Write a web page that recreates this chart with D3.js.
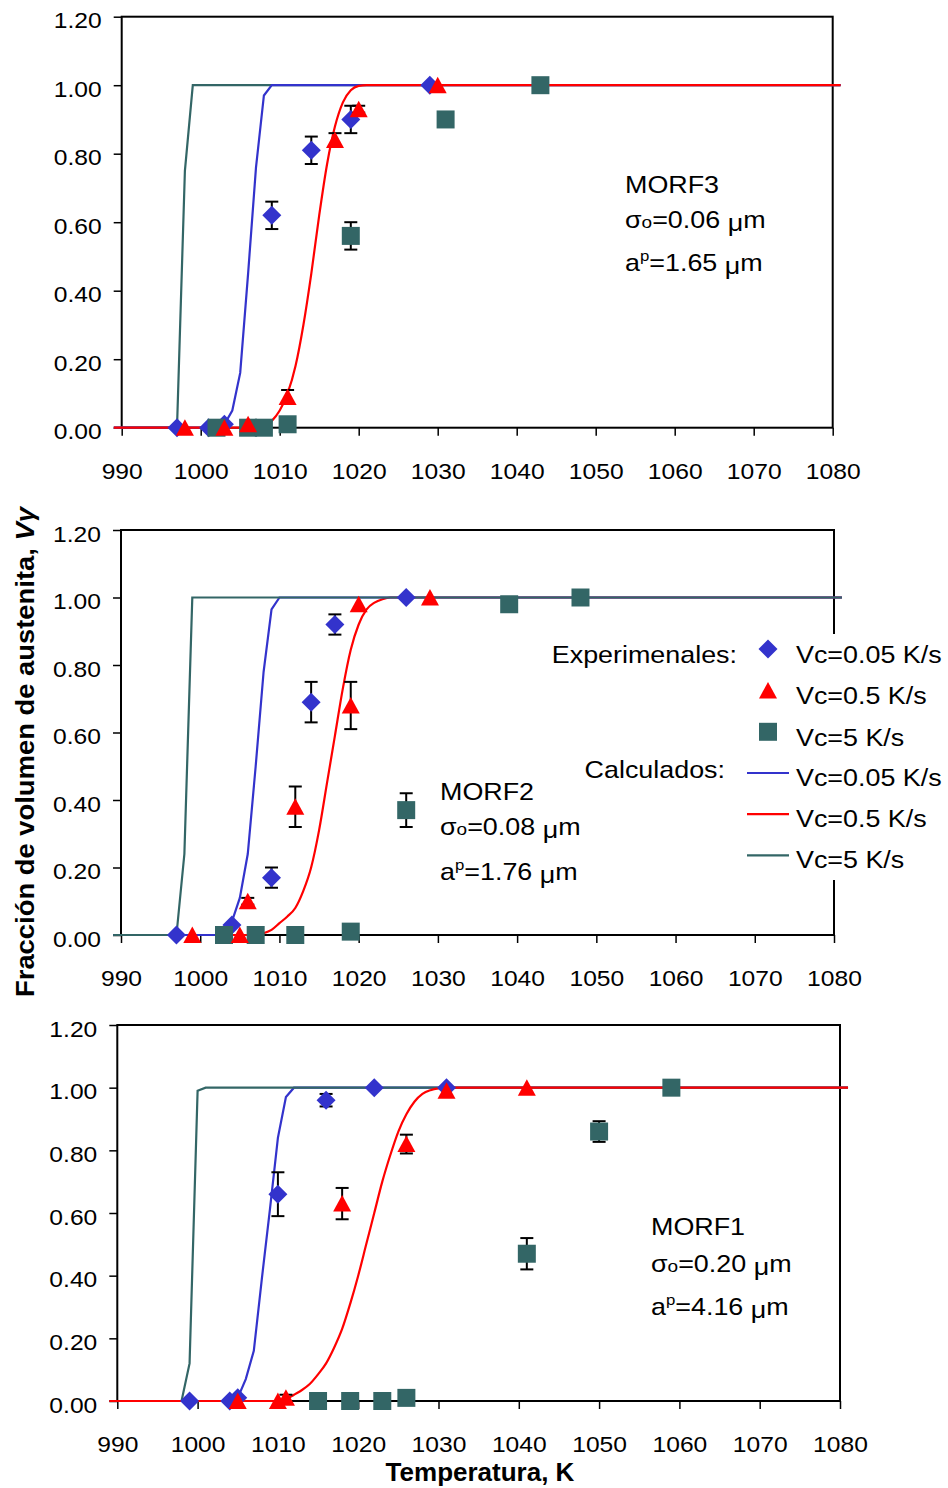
<!DOCTYPE html>
<html>
<head>
<meta charset="utf-8">
<script src="https://cdn.jsdelivr.net/npm/d3@7"></script>
<style>body{margin:0;background:#fff}</style>
</head>
<body>
<div id="chart"></div>
<script>
// ---- data: [temperatura K, fraccion V, error] ----
var xTicks = [990,1000,1010,1020,1030,1040,1050,1060,1070,1080];
var yTicks = [0,0.2,0.4,0.6,0.8,1.0,1.2];

// MORF3
var morf3Exp005 = [[997,0,0],[1001,0,0],[1003,0.01,0],[1009,0.62,0.04],[1014,0.81,0.04],[1019,0.90,0.04],[1029,1.0,0]];
var morf3Exp05  = [[998,0,0],[1003,0,0],[1006,0.01,0],[1011,0.09,0.02],[1017,0.84,0.02],[1020,0.93,0.01],[1030,1.0,0]];
var morf3Exp5   = [[1002,0,0],[1006,0,0],[1008,0,0],[1011,0.01,0],[1019,0.56,0.04],[1031,0.90,0],[1043,1.0,0]];
var morf3Calc005 = [[989,0],[1002,0],[1003,0.01],[1004,0.05],[1005,0.16],[1006,0.45],[1007,0.76],[1008,0.97],[1009,1],[1081,1]];
var morf3Calc05  = [[989,0],[1007,0],[1008,0.005],[1009,0.02],[1010,0.05],[1011,0.10],[1012,0.18],[1013,0.30],[1014,0.45],[1015,0.62],[1016,0.77],[1017,0.88],[1018,0.95],[1019,0.985],[1020,0.998],[1021,1],[1081,1]];
var morf3Calc5   = [[989,0],[997,0],[998,0.75],[999,1],[1081,1]];

// MORF2
var morf2Exp005 = [[997,0,0],[1004,0.03,0],[1009,0.17,0.03],[1014,0.69,0.06],[1017,0.92,0.03],[1026,1.0,0]];
var morf2Exp05  = [[999,0,0],[1005,0,0],[1006,0.10,0.01],[1012,0.38,0.06],[1019,0.68,0.07],[1020,0.98,0],[1029,1.0,0]];
var morf2Exp5   = [[1003,0,0],[1007,0,0],[1012,0,0],[1019,0.01,0],[1026,0.37,0.05],[1039,0.98,0],[1048,1.0,0]];
var morf2Calc005 = [[989,0],[1003,0],[1004,0.04],[1005,0.11],[1006,0.24],[1007,0.50],[1008,0.78],[1009,0.965],[1010,1],[1081,1]];
var morf2Calc05  = [[989,0],[1007,0],[1008,0.005],[1009,0.015],[1010,0.035],[1011,0.055],[1012,0.08],[1013,0.13],[1014,0.20],[1015,0.31],[1016,0.45],[1017,0.59],[1018,0.73],[1019,0.845],[1020,0.92],[1021,0.965],[1022,0.985],[1023,0.995],[1024,1],[1081,1]];
var morf2Calc5   = [[989,0],[997,0],[998,0.24],[999,1],[1081,1]];

// MORF1
var morf1Exp005 = [[999,0,0],[1004,0,0],[1005,0.01,0],[1010,0.66,0.07],[1016,0.96,0.02],[1022,1.0,0],[1031,1.0,0]];
var morf1Exp05  = [[1005,0,0],[1010,0,0],[1011,0.01,0.01],[1018,0.63,0.05],[1026,0.82,0.03],[1031,0.99,0],[1041,1.0,0]];
var morf1Exp5   = [[1015,0,0],[1019,0,0],[1023,0,0],[1026,0.01,0],[1041,0.47,0.05],[1050,0.86,0.033],[1059,1.0,0]];
var morf1Calc005 = [[989,0],[1004,0],[1005,0.01],[1006,0.07],[1007,0.16],[1008,0.39],[1009,0.61],[1010,0.84],[1011,0.97],[1012,1],[1081,1]];
var morf1Calc05  = [[989,0],[1010,0],[1011,0.005],[1012,0.02],[1013,0.035],[1014,0.055],[1015,0.085],[1016,0.12],[1017,0.17],[1018,0.23],[1019,0.31],[1020,0.40],[1021,0.50],[1022,0.60],[1023,0.70],[1024,0.785],[1025,0.86],[1026,0.915],[1027,0.955],[1028,0.98],[1029,0.992],[1030,0.998],[1031,1],[1081,1]];
var morf1Calc5   = [[989,0],[998,0],[999,0.12],[1000,0.99],[1001,1],[1081,1]];

var legendLabels = ["Vc=0.05 K/s","Vc=0.5 K/s","Vc=5 K/s"];

// ---- styles ----
var BLUE = "#3333CC", RED = "#FF0000", TEAL = "#336666";
var SX = 1.12; // text is a bit wide in the picture
var FONT = "'Liberation Sans', Arial, Helvetica, sans-serif";

var svg = d3.select("#chart").append("svg")
  .attr("width", 948).attr("height", 1488)
  .style("font-family", FONT);

var shapes = {
  diam: "M0,-9.5L9.5,0L0,9.5L-9.5,0Z",
  tri: "M0,-8.5L9,8L-9,8Z",
  sq: "M-9,-9h18v18h-18Z"
};

// panel layout (pixels)
var panels = [
  {x0:121.7, x1:832.7, top:16.7, bot:427.7,
   curves:[[morf3Calc5,TEAL],[morf3Calc005,BLUE],[morf3Calc05,RED]],
   exp:[[morf3Exp005,"diam",BLUE],[morf3Exp5,"sq",TEAL],[morf3Exp05,"tri",RED]],
   note:{x:625, y:[193,228,271], name:"MORF3", sigma:"0.06", ap:"1.65"}},
  {x0:121, x1:834, top:530, bot:935,
   curves:[[morf2Calc05,RED],[morf2Calc005,BLUE],[morf2Calc5,TEAL]],
   exp:[[morf2Exp005,"diam",BLUE],[morf2Exp5,"sq",TEAL],[morf2Exp05,"tri",RED]],
   note:{x:440, y:[800,835,880], name:"MORF2", sigma:"0.08", ap:"1.76"}},
  {x0:117.3, x1:840, top:1025, bot:1401,
   curves:[[morf1Calc005,BLUE],[morf1Calc5,TEAL],[morf1Calc05,RED]],
   exp:[[morf1Exp005,"diam",BLUE],[morf1Exp5,"sq",TEAL],[morf1Exp05,"tri",RED]],
   note:{x:651, y:[1235,1272,1315], name:"MORF1", sigma:"0.20", ap:"4.16"}}
];

function stretchText(parent, x, y, size) {
  return parent.append("text")
    .attr("transform", "translate(" + x + "," + y + ") scale(" + SX + ",1)")
    .style("font-size", size + "px")
    .attr("fill", "#000");
}

panels.forEach(function(p) {
  var x = d3.scaleLinear().domain([990,1080]).range([p.x0, p.x1]);
  var y = d3.scaleLinear().domain([0,1.2]).range([p.bot, p.top]);
  var g = svg.append("g");

  // plot frame
  g.append("rect")
    .attr("x", p.x0).attr("y", p.top)
    .attr("width", p.x1 - p.x0).attr("height", p.bot - p.top)
    .attr("fill", "none").attr("stroke", "#000").attr("stroke-width", 2);

  // x axis
  var gx = g.append("g")
    .attr("transform", "translate(0," + p.bot + ")")
    .call(d3.axisBottom(x).tickValues(xTicks).tickSize(8).tickSizeOuter(0).tickFormat(d3.format("d")))
    .attr("font-family", null).attr("font-size", null);
  gx.select(".domain").remove();
  gx.selectAll(".tick line").attr("stroke", "#000").attr("stroke-width", 1.5);
  gx.selectAll(".tick text")
    .attr("y", 51).attr("dy", null)
    .attr("transform", "scale(" + SX + ",1)")
    .style("font-size", "22px").attr("fill", "#000");

  // y axis
  var gy = g.append("g")
    .attr("transform", "translate(" + p.x0 + ",0)")
    .call(d3.axisLeft(y).tickValues(yTicks).tickSize(8).tickSizeOuter(0).tickFormat(d3.format(".2f")))
    .attr("font-family", null).attr("font-size", null);
  gy.select(".domain").remove();
  gy.selectAll(".tick line").attr("stroke", "#000").attr("stroke-width", 1.5);
  gy.selectAll(".tick text")
    .attr("x", -20 / SX).attr("y", 11).attr("dy", null)
    .attr("transform", "scale(" + SX + ",1)")
    .style("font-size", "22px").attr("fill", "#000");

  // calculated curves
  p.curves.forEach(function(c) {
    var line = d3.line()
      .x(function(d) { return x(d[0]); })
      .y(function(d) { return y(d[1]); })
      .curve(c[1] === RED ? d3.curveMonotoneX : d3.curveLinear);
    g.append("path").datum(c[0])
      .attr("d", line)
      .attr("fill", "none").attr("stroke", c[1]).attr("stroke-width", 2.2);
  });

  // experimental points with error bars
  p.exp.forEach(function(s) {
    var withErr = s[0].filter(function(d) { return d[2] > 0; });
    var eb = g.append("g").attr("stroke", "#000").attr("stroke-width", 2);
    withErr.forEach(function(d) {
      var cx = x(d[0]), y1 = y(d[1] + d[2]), y2 = y(d[1] - d[2]);
      eb.append("line").attr("x1", cx).attr("x2", cx).attr("y1", y1).attr("y2", y2);
      eb.append("line").attr("x1", cx - 6.5).attr("x2", cx + 6.5).attr("y1", y1).attr("y2", y1);
      eb.append("line").attr("x1", cx - 6.5).attr("x2", cx + 6.5).attr("y1", y2).attr("y2", y2);
    });
    g.selectAll(null).data(s[0]).enter().append("path")
      .attr("d", shapes[s[1]])
      .attr("transform", function(d) { return "translate(" + x(d[0]) + "," + y(d[1]) + ")"; })
      .attr("fill", s[2]);
  });

  // annotation
  var n = p.note;
  stretchText(g, n.x, n.y[0], 24).text(n.name);
  var t2 = stretchText(g, n.x, n.y[1], 24);
  t2.append("tspan").text("σ");
  t2.append("tspan").style("font-size", "17px").text("o");
  t2.append("tspan").text("=" + n.sigma + " ");
  t2.append("tspan").attr("dy", 3).text("μ");
  t2.append("tspan").attr("dy", -3).text("m");
  var t3 = stretchText(g, n.x, n.y[2], 24);
  t3.append("tspan").text("a");
  t3.append("tspan").style("font-size", "15px").attr("dy", -10).text("p");
  t3.append("tspan").attr("dy", 10).text("=" + n.ap + " ");
  t3.append("tspan").attr("dy", 3).text("μ");
  t3.append("tspan").attr("dy", -3).text("m");
});

// ---- legend (inside middle panel) ----
var lg = svg.append("g");
lg.append("rect").attr("x", 742).attr("y", 634).attr("width", 206).attr("height", 246).attr("fill", "#fff");
stretchText(lg, 737, 663, 24).attr("text-anchor", "end").text("Experimenales:");
stretchText(lg, 725, 778, 24).attr("text-anchor", "end").text("Calculados:");
var expKeys = [["diam",BLUE],["tri",RED],["sq",TEAL]];
var calcKeys = [BLUE, RED, TEAL];
expKeys.forEach(function(k, i) {
  var cy = 649 + i * 41.4;
  lg.append("path").attr("d", shapes[k[0]])
    .attr("transform", "translate(768," + cy + ")").attr("fill", k[1]);
  stretchText(lg, 796, cy + 14, 24).text(legendLabels[i]);
});
calcKeys.forEach(function(c, i) {
  var cy = 773 + i * 41.2;
  lg.append("line").attr("x1", 747).attr("x2", 789).attr("y1", cy).attr("y2", cy)
    .attr("stroke", c).attr("stroke-width", 2.2);
  stretchText(lg, 796, cy + 13, 24).text(legendLabels[i]);
});

// ---- axis titles ----
svg.append("text")
  .attr("transform", "translate(480,1481) scale(1.04,1)")
  .attr("text-anchor", "middle")
  .style("font-size", "25px").style("font-weight", "bold")
  .text("Temperatura, K");

var yt = svg.append("text")
  .attr("transform", "translate(34,752) rotate(-90)")
  .attr("text-anchor", "middle")
  .attr("textLength", 490).attr("lengthAdjust", "spacingAndGlyphs")
  .style("font-size", "26px").style("font-weight", "bold");
yt.append("tspan").text("Fracción de volumen de austenita,  ");
yt.append("tspan").style("font-style", "italic").text("Vγ");
</script>
</body>
</html>
